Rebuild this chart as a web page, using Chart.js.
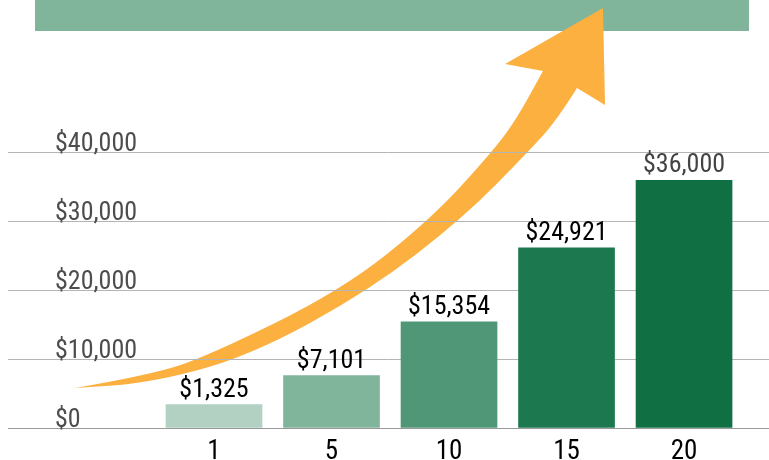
<!DOCTYPE html>
<html>
<head>
<meta charset="utf-8">
<script src="https://cdn.jsdelivr.net/npm/chart.js@4"></script>
<style>
  html, body { margin: 0; padding: 0; background: #fff; }
</style>
</head>
<body>
<canvas id="chart" width="769" height="460"></canvas>
<script>
// Chart data
const years = ['1', '5', '10', '15', '20'];
const barValues = [3400, 7600, 15400, 26100, 35900];
const valueLabels = ['$1,325', '$7,101', '$15,354', '$24,921', '$36,000'];
const barColors = ['#b3d1c2', '#80b49b', '#4f9776', '#1c784e', '#106f43'];
const labelColors = ['#000000', '#000000', '#000000', '#000000', '#444444'];
const yTicks = [0, 10000, 20000, 30000, 40000];

const fontFamily = "'Roboto Condensed', 'Liberation Sans Narrow', 'Arial Narrow', 'DejaVu Sans Condensed', Roboto, sans-serif";

// Decoration: green banner + big orange growth arrow (canvas pixels, not data)
const bannerColor = '#80b49b';
const arrowColor = '#fbb040';
const upperEdge = [[75, 388], [150, 375], [208, 356], [342, 290], [432, 218], [492, 152], [516, 120], [543, 71]];
const lowerEdge = [[75, 388], [150, 383], [250, 356], [370, 290], [463, 218], [528, 152], [557, 120], [577, 88]];
const arrowHead = [[505, 64], [603, 8], [605, 105]];

function smoothPath(ctx, pts) {
    for (let i = 1; i < pts.length - 1; i++) {
        const mx = (pts[i][0] + pts[i + 1][0]) / 2;
        const my = (pts[i][1] + pts[i + 1][1]) / 2;
        ctx.quadraticCurveTo(pts[i][0], pts[i][1], mx, my);
    }
    ctx.lineTo(pts[pts.length - 1][0], pts[pts.length - 1][1]);
}

const decorPlugin = {
    id: 'decor',
    beforeDraw(chart) {
        const ctx = chart.ctx;
        ctx.save();
        ctx.fillStyle = bannerColor;
        ctx.fillRect(35, 0, 714, 31);

        ctx.fillStyle = arrowColor;
        ctx.beginPath();
        ctx.moveTo(upperEdge[0][0], upperEdge[0][1]);
        smoothPath(ctx, upperEdge);
        arrowHead.forEach(p => ctx.lineTo(p[0], p[1]));
        const back = lowerEdge.slice().reverse();
        ctx.lineTo(back[0][0], back[0][1]);
        smoothPath(ctx, back);
        ctx.closePath();
        ctx.fill();
        ctx.restore();
    }
};

const valueLabelPlugin = {
    id: 'valueLabels',
    afterDatasetsDraw(chart) {
        const ctx = chart.ctx;
        const meta = chart.getDatasetMeta(0);
        ctx.save();
        ctx.font = '26px ' + fontFamily;
        ctx.textAlign = 'center';
        ctx.textBaseline = 'alphabetic';
        meta.data.forEach((bar, i) => {
            ctx.fillStyle = labelColors[i];
            ctx.fillText(valueLabels[i], bar.x, bar.y - 8);
        });
        ctx.restore();
    }
};

const ctx = document.getElementById('chart').getContext('2d');
new Chart(ctx, {
    type: 'bar',
    data: {
        datasets: [{
            data: barValues.map((v, i) => ({ x: i, y: v })),
            backgroundColor: barColors,
            borderWidth: 0,
            barThickness: 96
        }]
    },
    options: {
        responsive: false,
        animation: false,
        layout: { padding: { left: 8, right: 0, top: 152, bottom: 0 } },
        plugins: {
            legend: { display: false },
            tooltip: { enabled: false }
        },
        scales: {
            x: {
                type: 'linear',
                offset: false,
                min: -1.753,
                max: 4.723,
                grid: { display: false },
                border: { display: true, color: '#999999', width: 1 },
                afterFit: scale => {
                    scale.height = 32;
                    scale.paddingLeft = 0;
                    scale.paddingRight = 0;
                },
                afterBuildTicks: scale => {
                    scale.ticks = years.map((y, i) => ({ value: i }));
                },
                ticks: {
                    padding: 0,
                    color: '#000000',
                    font: { family: fontFamily, size: 27 },
                    callback: (value) => years[value] ?? ''
                }
            },
            y: {
                min: 0,
                max: 40000,
                afterFit: scale => {
                    scale.width = 0;
                    scale.paddingTop = 0;
                    scale.paddingBottom = 0;
                },
                afterBuildTicks: scale => {
                    scale.ticks = yTicks.map(v => ({ value: v }));
                },
                border: { display: false },
                grid: { color: '#b4b4b4', lineWidth: 1, drawTicks: false },
                ticks: {
                    mirror: true,
                    padding: 47,
                    labelOffset: -8,
                    color: '#4d4d4d',
                    font: { family: fontFamily, size: 26 },
                    callback: value => '$' + value.toLocaleString('en-US')
                }
            }
        }
    },
    plugins: [decorPlugin, valueLabelPlugin]
});
</script>
</body>
</html>
